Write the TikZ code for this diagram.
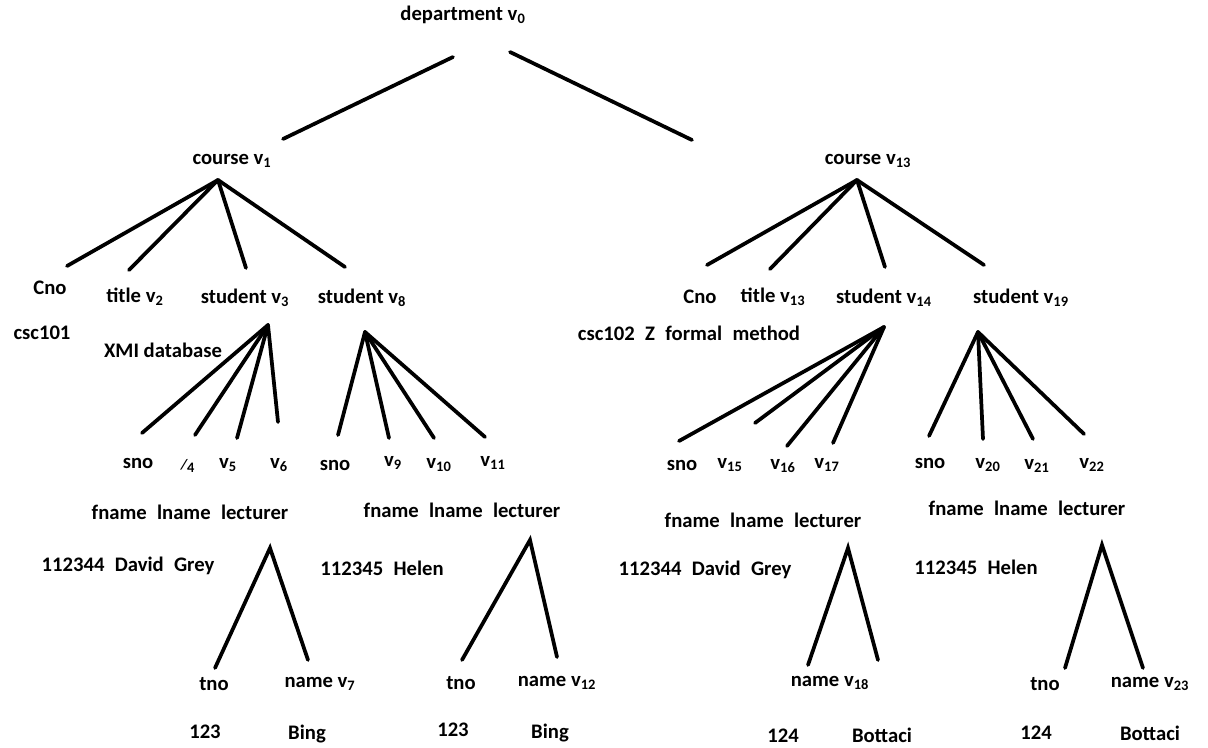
\documentclass[tikz,border=0pt]{standalone}
\usepackage{fontspec}
\setmainfont{Carlito}
\newcommand\vsub[1]{v\textsubscript{#1}}
\begin{document}
\begin{tikzpicture}[x=0.75pt,y=-0.75pt,
  lbl/.style={inner sep=0pt, font=\fontsize{15.5}{18}\selectfont\bfseries},
  edge/.style={line width=2.8pt, line cap=round}]
\useasboundingbox (0,0) rectangle (1208,747);

% ---------- labels ----------
\node[lbl] (dep)   at (463,15)  {department \vsub{0}};
\node[lbl] (crs1)  at (232,161) {course \vsub{1}};
\node[lbl] (crs13) at (868,161) {course \vsub{13}};

\node[lbl] (cnoA)  at (50,288)   {Cno};
\node[lbl] (tit2)  at (135,297)  {title \vsub{2}};
\node[lbl] (stu3)  at (245,298)  {student \vsub{3}};
\node[lbl] (stu8)  at (362,298)  {student \vsub{8}};
\node[lbl] (cnoB)  at (700,297)  {Cno};
\node[lbl] (tit13) at (773,297)  {title \vsub{13}};
\node[lbl] (stu14) at (884,298)  {student \vsub{14}};
\node[lbl] (stu19) at (1021,298) {student \vsub{19}};

\node[lbl] (csc101) at (42,333)  {csc101};
\node[lbl] (xmi)    at (163,350) {XMI database};
\node[lbl] (csc102) at (689,333) {csc102\enspace Z\enspace formal\enspace method};

\node[lbl] (snoA) at (138,463) {sno};
\node[lbl] (v4)   at (188,466) {{\fontsize{11}{11}\selectfont\itshape /}\textsubscript{4}};
\node[lbl] (v5)   at (228,465) {\vsub{5}};
\node[lbl] (v6)   at (279,465) {\vsub{6}};
\node[lbl] (snoB) at (335,465) {sno};
\node[lbl] (v9)   at (393,463) {\vsub{9}};
\node[lbl] (v10)  at (439,465) {\vsub{10}};
\node[lbl] (v11)  at (493,463) {\vsub{11}};
\node[lbl] (snoC) at (682,465) {sno};
\node[lbl] (v15)  at (730,465) {\vsub{15}};
\node[lbl] (v16)  at (783,466) {\vsub{16}};
\node[lbl] (v17)  at (827,465) {\vsub{17}};
\node[lbl] (snoD) at (930,463) {sno};
\node[lbl] (v20)  at (988,465) {\vsub{20}};
\node[lbl] (v21)  at (1037,466) {\vsub{21}};
\node[lbl] (v22)  at (1092,465) {\vsub{22}};

\node[lbl] (fllA) at (190,512)  {fname\enspace lname\enspace lecturer};
\node[lbl] (fllB) at (462,510)  {fname\enspace lname\enspace lecturer};
\node[lbl] (fllC) at (763,520)  {fname\enspace lname\enspace lecturer};
\node[lbl] (fllD) at (1027,508) {fname\enspace lname\enspace lecturer};

\node[lbl] (valA) at (128,566) {112344\enspace David\enspace Grey};
\node[lbl] (valB) at (382,568) {112345\enspace Helen};
\node[lbl] (valC) at (705,570) {112344\enspace David\enspace Grey};
\node[lbl] (valD) at (976,567) {112345\enspace Helen};

\node[lbl] (tnoA)  at (214,684)  {tno};
\node[lbl] (nam7)  at (320,684)  {name \vsub{7}};
\node[lbl] (tnoB)  at (461,683)  {tno};
\node[lbl] (nam12) at (557,683)  {name \vsub{12}};
\node[lbl] (nam18) at (830,683)  {name \vsub{18}};
\node[lbl] (tnoD)  at (1045,684) {tno};
\node[lbl] (nam23) at (1150,684) {name \vsub{23}};

\node[lbl] (numA) at (205,732)  {123};
\node[lbl] (bngA) at (307,734)  {Bing};
\node[lbl] (numB) at (453,730)  {123};
\node[lbl] (bngB) at (550,733)  {Bing};
\node[lbl] (numC) at (783,736)  {124};
\node[lbl] (botC) at (882,735)  {Bottaci};
\node[lbl] (numD) at (1036,733) {124};
\node[lbl] (botD) at (1150,733) {Bottaci};

% ---------- branch points ----------
\coordinate (d0l) at (453,57);  \coordinate (d0le) at (283,139);
\coordinate (d0r) at (510,52);  \coordinate (d0re) at (692,140);

\coordinate (p1) at (218,180);
\coordinate (p1a) at (67,266);  \coordinate (p1b) at (129,270);
\coordinate (p1c) at (246,268); \coordinate (p1d) at (345,267);

\coordinate (p13) at (857,180);
\coordinate (p13a) at (707,265); \coordinate (p13b) at (770,269);
\coordinate (p13c) at (885,267); \coordinate (p13d) at (984,265);

\coordinate (p3) at (268,325);
\coordinate (p3a) at (142,433); \coordinate (p3b) at (195,435);
\coordinate (p3c) at (237,438); \coordinate (p3d) at (278,422);

\coordinate (p8) at (365,332);
\coordinate (p8a) at (338,435); \coordinate (p8b) at (389,438);
\coordinate (p8c) at (434,438); \coordinate (p8d) at (485,437);

\coordinate (p14) at (884,327);
\coordinate (p14a) at (679,441); \coordinate (p14b) at (755,423);
\coordinate (p14c) at (787,446); \coordinate (p14d) at (833,443);

\coordinate (p19) at (978,332);
\coordinate (p19a) at (929,436); \coordinate (p19b) at (983,439);
\coordinate (p19c) at (1033,439); \coordinate (p19d) at (1084,434);

\coordinate (t1) at (270,548); \coordinate (t1a) at (215,668); \coordinate (t1b) at (308,660);
\coordinate (t2) at (530,540); \coordinate (t2a) at (462,660); \coordinate (t2b) at (557,657);
\coordinate (t3) at (848,548); \coordinate (t3a) at (808,665); \coordinate (t3b) at (878,660);
\coordinate (t4) at (1102,545); \coordinate (t4a) at (1065,668); \coordinate (t4b) at (1143,668);

% ---------- edges ----------
\draw[edge] (d0l) -- (d0le);
\draw[edge] (d0r) -- (d0re);
\foreach \p in {p1,p13,p3,p8,p14,p19}
  \foreach \s in {a,b,c,d}
    \draw[edge] (\p) -- (\p\s);
\foreach \t in {t1,t2,t3,t4}
  \draw[edge] (\t a) -- (\t) -- (\t b);
\end{tikzpicture}
\end{document}
